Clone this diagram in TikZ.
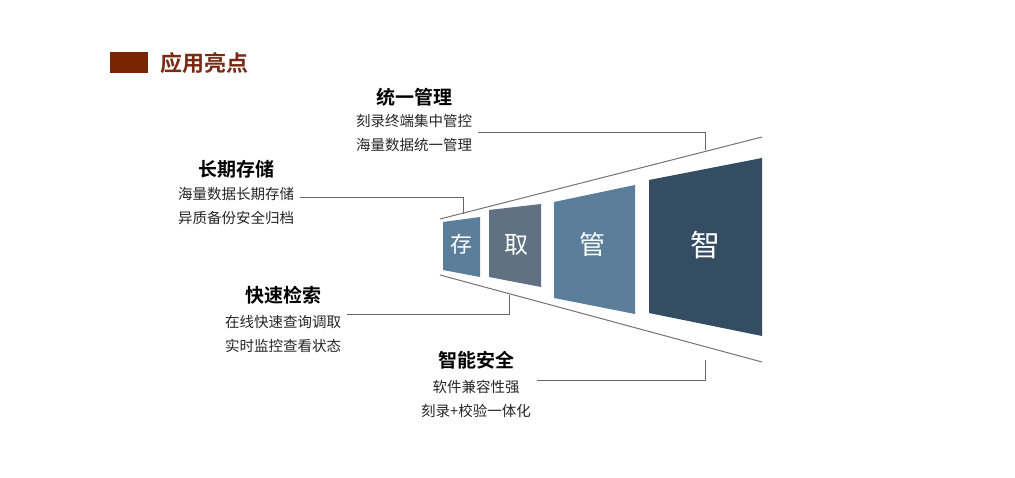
\documentclass[tikz,border=0pt]{standalone}
\usepackage{fontspec}
\newfontfamily\cjk{Noto Sans CJK SC}
\newfontfamily\cjkb{Noto Sans CJK SC Bold}
\begin{document}
\begin{tikzpicture}[x=1pt,y=-1pt,
  head/.style={font=\cjkb\fontsize{19}{19}\selectfont,text=black,inner sep=0},
  body/.style={font=\cjk\fontsize{14.5}{24}\selectfont,text=black!85,align=center,inner sep=0},
  conn/.style={draw=black!60,line width=0.8pt},
  big/.style={font=\cjk,text=white,inner sep=0}]
\useasboundingbox (0,0) rectangle (1015,478);
\fill[white] (0,0) rectangle (1015,478);
% title
\fill[fill={rgb,255:red,123;green,37;blue,0}] (110,52) rectangle (148,73);
\node[font=\cjkb\fontsize{22}{22}\selectfont,text={rgb,255:red,122;green,42;blue,18},anchor=west,inner sep=0] (title) at (160,63) {应用亮点};
% funnel lines
\coordinate (tl) at (440,219); \coordinate (tr) at (762,137);
\coordinate (bl) at (440,275); \coordinate (br) at (762,362);
\draw[conn,draw=black!55,line width=1pt] (tl) -- (tr);
\draw[conn,draw=black!55,line width=1pt] (bl) -- (br);
% boxes
\definecolor{cA}{RGB}{91,127,155}
\definecolor{cB}{RGB}{95,113,130}
\definecolor{cC}{RGB}{52,77,99}
\fill[cA] (443,222) -- (480,217) -- (480,277) -- (443,270) -- cycle;
\fill[cB] (489,210) -- (541,204) -- (541,287) -- (489,277) -- cycle;
\fill[cA] (554,202) -- (635,185) -- (635,314) -- (554,298) -- cycle;
\fill[cC] (649,180) -- (762,158) -- (762,336) -- (649,313) -- cycle;
\node[big,font=\cjk\fontsize{22}{22}\selectfont] (b1) at (461,244) {存};
\node[big,font=\cjk\fontsize{24}{24}\selectfont] (b2) at (516,245) {取};
\node[big,font=\cjk\fontsize{26}{26}\selectfont] (b3) at (592,245) {管};
\node[big,font=\cjk\fontsize{30}{30}\selectfont] (b4) at (705,245) {智};
% texts
\node[head] (h1) at (414,97) {统一管理};
\node[body] (t1) at (414,133) {刻录终端集中管控\\海量数据统一管理};
\node[head] (h2) at (236,169) {长期存储};
\node[body] (t2) at (236,206) {海量数据长期存储\\异质备份安全归档};
\node[head] (h3) at (283,295) {快速检索};
\node[body] (t3) at (283,334) {在线快速查询调取\\实时监控查看状态};
\node[head] (h4) at (476,360) {智能安全};
\node[body] (t4) at (476,399) {软件兼容性强\\刻录+校验一体化};
% connectors
\coordinate (c1) at (705,150); \coordinate (c2) at (463,214);
\coordinate (c3) at (509,295); \coordinate (c4) at (705,360);
\draw[conn] (t1.east|-0,132) ++(6,0) -| (c1);
\draw[conn] (t2.east|-0,197) ++(6,0) -| (c2);
\draw[conn] (t3.east|-0,314) ++(6,0) -| (c3);
\draw[conn] (t4.east|-0,380) ++(6,0) -| (c4);
\end{tikzpicture}
\end{document}
